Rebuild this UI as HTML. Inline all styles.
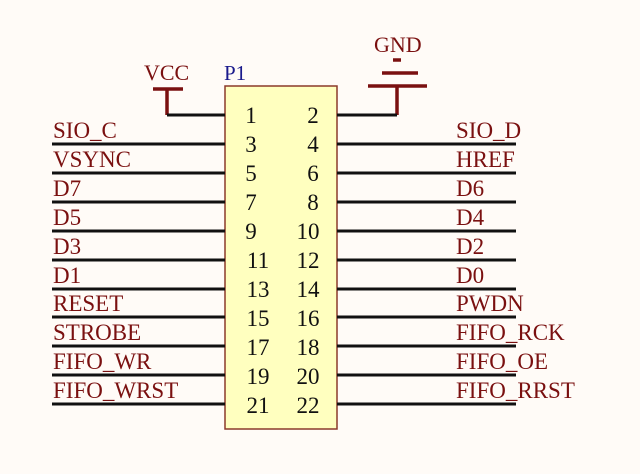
<!DOCTYPE html>
<html><head><style>body{margin:0;background:#fffbf7}</style></head><body>
<svg width="640" height="469" xmlns="http://www.w3.org/2000/svg" font-family="Liberation Serif, serif" font-size="21">
<rect width="640" height="469" fill="#fffbf7"/>
<rect x="225" y="86" width="112" height="343" fill="#ffffbf" stroke="#8b3a2a" stroke-width="1.5"/>
<text x="224" y="80" fill="#1a1a8c" font-size="21">P1</text>
<!-- VCC -->
<text x="144" y="80" fill="#7a1010" font-size="22">VCC</text>
<line x1="153" y1="89" x2="183" y2="89" stroke="#7a1010" stroke-width="3.5"/>
<line x1="167" y1="89" x2="167" y2="115" stroke="#7a1010" stroke-width="3.5"/>
<line x1="167" y1="115" x2="225" y2="115" stroke="#111" stroke-width="3"/>
<!-- GND -->
<text x="374" y="52" fill="#7a1010" font-size="22">GND</text>
<line x1="393" y1="60" x2="401" y2="60" stroke="#7a1010" stroke-width="3.5"/>
<line x1="382" y1="73" x2="418" y2="73" stroke="#7a1010" stroke-width="3.5"/>
<line x1="368" y1="86" x2="427" y2="86" stroke="#7a1010" stroke-width="3.5"/>
<line x1="397" y1="86" x2="397" y2="115" stroke="#7a1010" stroke-width="3.5"/>
<line x1="337" y1="115" x2="397" y2="115" stroke="#111" stroke-width="3"/>
<g fill="#111" text-anchor="middle" font-size="23">
<text x="251" y="123">1</text><text x="313" y="123">2</text>
<text x="251" y="152">3</text><text x="313" y="152">4</text>
<text x="251" y="181">5</text><text x="313" y="181">6</text>
<text x="251" y="210">7</text><text x="313" y="210">8</text>
<text x="251" y="239">9</text><text x="308" y="239">10</text>
<text x="258" y="268">11</text><text x="308" y="268">12</text>
<text x="258" y="297">13</text><text x="308" y="297">14</text>
<text x="258" y="326">15</text><text x="308" y="326">16</text>
<text x="258" y="355">17</text><text x="308" y="355">18</text>
<text x="258" y="384">19</text><text x="308" y="384">20</text>
<text x="258" y="413">21</text><text x="308" y="413">22</text>
</g>
<g stroke="#111" stroke-width="3">
<line x1="52" y1="144" x2="225" y2="144"/><line x1="337" y1="144" x2="516" y2="144"/>
<line x1="52" y1="173" x2="225" y2="173"/><line x1="337" y1="173" x2="516" y2="173"/>
<line x1="52" y1="202" x2="225" y2="202"/><line x1="337" y1="202" x2="516" y2="202"/>
<line x1="52" y1="231" x2="225" y2="231"/><line x1="337" y1="231" x2="516" y2="231"/>
<line x1="52" y1="260" x2="225" y2="260"/><line x1="337" y1="260" x2="516" y2="260"/>
<line x1="52" y1="289" x2="225" y2="289"/><line x1="337" y1="289" x2="516" y2="289"/>
<line x1="52" y1="317" x2="225" y2="317"/><line x1="337" y1="317" x2="516" y2="317"/>
<line x1="52" y1="346" x2="225" y2="346"/><line x1="337" y1="346" x2="516" y2="346"/>
<line x1="52" y1="375" x2="225" y2="375"/><line x1="337" y1="375" x2="516" y2="375"/>
<line x1="52" y1="404" x2="225" y2="404"/><line x1="337" y1="404" x2="516" y2="404"/>
</g>
<g fill="#7a1010" font-size="23">
<text x="53" y="138">SIO_C</text><text x="456" y="138">SIO_D</text>
<text x="53" y="167">VSYNC</text><text x="456" y="167">HREF</text>
<text x="53" y="196">D7</text><text x="456" y="196">D6</text>
<text x="53" y="225">D5</text><text x="456" y="225">D4</text>
<text x="53" y="254">D3</text><text x="456" y="254">D2</text>
<text x="53" y="283">D1</text><text x="456" y="283">D0</text>
<text x="53" y="311">RESET</text><text x="456" y="311">PWDN</text>
<text x="53" y="340">STROBE</text><text x="456" y="340">FIFO_RCK</text>
<text x="53" y="369">FIFO_WR</text><text x="456" y="369">FIFO_OE</text>
<text x="53" y="398">FIFO_WRST</text><text x="456" y="398">FIFO_RRST</text>
</g>
</svg>
</body></html>
